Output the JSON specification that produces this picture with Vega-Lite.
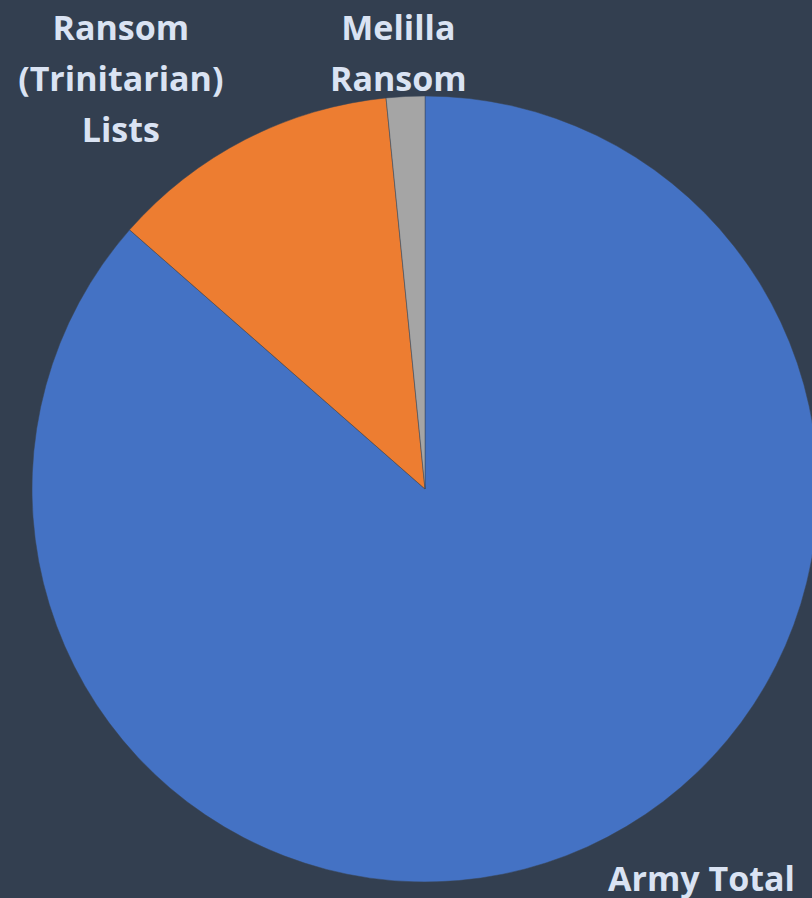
{
  "$schema": "https://vega.github.io/schema/vega-lite/v6.json",
  "width": 774,
  "height": 818,
  "autosize": {"type": "none"},
  "padding": {"left": 38, "top": 80, "right": 0, "bottom": 0},
  "background": "#333F50",
  "config": {"view": {"stroke": null}},
  "data": {
    "values": [
      {"category": "Army Total", "value": 86.46, "rank": 1, "label": "Army Total"},
      {"category": "Ransom (Trinitarian) Lists", "value": 11.96, "rank": 2, "label": "Ransom\n(Trinitarian)\nLists"},
      {"category": "Melilla Ransom", "value": 1.58, "rank": 3, "label": "Melilla\nRansom"}
    ]
  },
  "encoding": {
    "theta": {"field": "value", "type": "quantitative", "stack": true},
    "order": {"field": "rank", "type": "quantitative"}
  },
  "layer": [
    {
      "mark": {"type": "arc", "outerRadius": 393, "stroke": "#3b4656", "strokeWidth": 0.5},
      "encoding": {
        "color": {
          "field": "category",
          "type": "nominal",
          "scale": {
            "domain": ["Army Total", "Ransom (Trinitarian) Lists", "Melilla Ransom"],
            "range": ["#4472C4", "#ED7D31", "#A5A5A5"]
          },
          "legend": null
        }
      }
    },
    {
      "mark": {"type": "text", "radius": 430, "dx": 99, "dy": 0, "font": "Open Sans", "fontWeight": "bold", "fontSize": 34, "color": "#DAE3F3", "align": "center", "baseline": "middle", "lineBreak": "\n", "lineHeight": 51},
      "encoding": {
        "text": {"condition": {"test": "datum.category === 'Army Total'", "field": "label"}, "value": ""}
      }
    },
    {
      "mark": {"type": "text", "radius": 440, "dx": -103, "dy": -68, "font": "Open Sans", "fontWeight": "bold", "fontSize": 34, "color": "#DAE3F3", "align": "center", "baseline": "middle", "lineBreak": "\n", "lineHeight": 51},
      "encoding": {
        "text": {"condition": {"test": "datum.category === 'Ransom (Trinitarian) Lists'", "field": "label"}, "value": ""}
      }
    },
    {
      "mark": {"type": "text", "radius": 436, "dx": -5, "dy": -24, "font": "Open Sans", "fontWeight": "bold", "fontSize": 34, "color": "#DAE3F3", "align": "center", "baseline": "middle", "lineBreak": "\n", "lineHeight": 51},
      "encoding": {
        "text": {"condition": {"test": "datum.category === 'Melilla Ransom'", "field": "label"}, "value": ""}
      }
    }
  ]
}
